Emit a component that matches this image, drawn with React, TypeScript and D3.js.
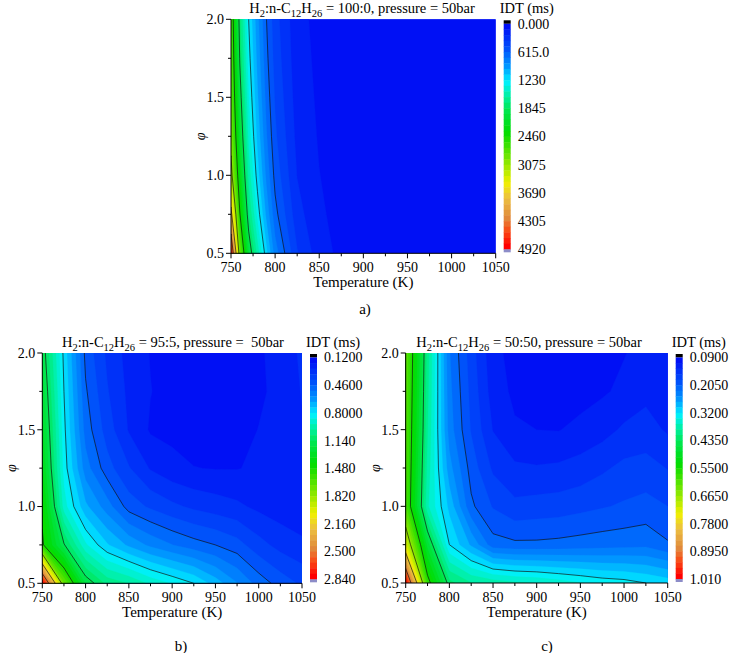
import React from "react";
import * as d3 from "d3";

// grid of the simulations (phi rows go from 0.5 up to 2.0)
const phiGrid = [0.5, 0.75, 1.0, 1.25, 1.5, 1.75, 2.0];
const tempA = [750, 760, 770, 780, 790, 800, 825, 850, 875, 900, 950, 1000, 1050];
const tempBC = [750, 775, 800, 825, 850, 875, 900, 925, 950, 975, 1000, 1025, 1050];

// IDT (ms), H2:n-C12H26 = 100:0
const idtA = [
  [4800, 2870, 2000, 1550, 1150, 800, 380, 180, 90, 55, 28, 15, 8],
  [3800, 2475, 1728, 1316, 955, 659, 293, 146, 75, 47, 24, 13, 7.3],
  [3200, 2219, 1553, 1168, 834, 572, 242, 126, 66, 41.5, 21.6, 12.1, 6.9],
  [2950, 2050, 1437, 1071, 756, 516, 211, 112, 60, 38, 20, 11.4, 6.6],
  [2820, 1932, 1356, 1003, 702, 478, 190, 103, 56, 35.6, 18.8, 10.8, 6.4],
  [2750, 1830, 1285, 944, 655, 445, 173, 96, 53, 33.6, 17.8, 10.4, 6.2],
  [2700, 1750, 1230, 900, 620, 420, 160, 90, 50, 32, 17, 10, 6],
];

// IDT (ms), H2:n-C12H26 = 95:5
const idtB = [
  [2.84, 1.7, 1.2, 1.05, 1.0, 0.92, 0.86, 0.8, 0.7, 0.6, 0.5, 0.43, 0.38],
  [1.5, 1.15, 0.88, 0.74, 0.65, 0.58, 0.53, 0.49, 0.46, 0.42, 0.35, 0.3, 0.27],
  [1.45, 0.9, 0.68, 0.56, 0.43, 0.38, 0.34, 0.31, 0.29, 0.27, 0.24, 0.22, 0.21],
  [1.35, 0.84, 0.56, 0.42, 0.33, 0.25, 0.21, 0.19, 0.185, 0.185, 0.2, 0.21, 0.22],
  [1.3, 0.82, 0.5, 0.36, 0.25, 0.18, 0.17, 0.155, 0.15, 0.16, 0.19, 0.22, 0.25],
  [1.25, 0.8, 0.47, 0.33, 0.24, 0.19, 0.165, 0.155, 0.15, 0.155, 0.175, 0.21, 0.26],
  [1.2, 0.78, 0.44, 0.31, 0.23, 0.185, 0.17, 0.16, 0.16, 0.165, 0.18, 0.21, 0.27],
];

// IDT (ms), H2:n-C12H26 = 50:50
const idtC = [
  [1.0, 0.57, 0.42, 0.39, 0.38, 0.37, 0.365, 0.355, 0.345, 0.335, 0.33, 0.32, 0.31],
  [0.72, 0.47, 0.32, 0.27, 0.215, 0.21, 0.21, 0.212, 0.215, 0.218, 0.22, 0.222, 0.208],
  [0.6, 0.37, 0.29, 0.21, 0.18, 0.165, 0.168, 0.17, 0.175, 0.18, 0.185, 0.19, 0.182],
  [0.605, 0.38, 0.26, 0.195, 0.155, 0.14, 0.138, 0.14, 0.145, 0.155, 0.165, 0.168, 0.158],
  [0.61, 0.39, 0.24, 0.18, 0.135, 0.116, 0.113, 0.112, 0.12, 0.127, 0.14, 0.145, 0.133],
  [0.615, 0.395, 0.235, 0.175, 0.125, 0.108, 0.105, 0.103, 0.103, 0.11, 0.118, 0.13, 0.128],
  [0.62, 0.4, 0.23, 0.17, 0.12, 0.105, 0.1, 0.1, 0.1, 0.106, 0.112, 0.12, 0.125],
];

const barLabelsA = ["0.000", "615.0", "1230", "1845", "2460", "3075", "3690", "4305", "4920"];
const barLabelsB = ["0.1200", "0.4600", "0.8000", "1.140", "1.480", "1.820", "2.160", "2.500", "2.840"];
const barLabelsC = ["0.0900", "0.2050", "0.3200", "0.4350", "0.5500", "0.6650", "0.7800", "0.8950", "1.010"];

const xTicks = [750, 800, 850, 900, 950, 1000, 1050];
const xMinor = [775, 825, 875, 925, 975, 1025];
const yTicks = [0.5, 1.0, 1.5, 2.0];
const yMinor = [0.75, 1.25, 1.75];

const colorStops = [0, 0.1, 0.18, 0.25, 0.31, 0.38, 0.48, 0.6, 0.71, 0.78, 0.87, 0.93, 1];
const colorList = ["#0010f5", "#0050fa", "#0096ff", "#00f0ff", "#00f0aa", "#00e650", "#00dc00",
  "#78e600", "#f0f000", "#ecc040", "#e08a3c", "#fa4a14", "#ff0000"];

const NLEV = 40;
const FONT = "'Liberation Serif', 'Times New Roman', Times, serif";

const cmap = d3.scaleLinear<string>().domain(colorStops).range(colorList).interpolate(d3.interpolateRgb);

const panels = [
  { id: "a", temps: tempA, idt: idtA, labels: barLabelsA, ratio: "100:0", press: "pressure = 50bar",
    left: 231, right: 495.7, top: 19.3, bottom: 253.3, titleX: 362, tag: "a)", tagX: 365, tagY: 314 },
  { id: "b", temps: tempBC, idt: idtB, labels: barLabelsB, ratio: "95:5", press: "pressure =  50bar",
    left: 42.3, right: 302, top: 353, bottom: 583.3, titleX: 173, tag: "b)", tagX: 181, tagY: 651 },
  { id: "c", temps: tempBC, idt: idtC, labels: barLabelsC, ratio: "50:50", press: "pressure = 50bar",
    left: 405.7, right: 667.7, top: 353, bottom: 583, titleX: 529, tag: "c)", tagX: 547, tagY: 651 },
];

function ContourPanel({ p }: { p: any }) {
  const x = d3.scaleLinear().domain([750, 1050]).range([p.left, p.right]);
  const y = d3.scaleLinear().domain([0.5, 2.0]).range([p.bottom, p.top]);
  // grid coordinates from d3.contours -> data values
  const gx = d3.scaleLinear().domain(p.temps.map((_: number, i: number) => i + 0.5)).range(p.temps);
  const gy = d3.scaleLinear().domain(phiGrid.map((_, i) => i + 0.5)).range(phiGrid);

  const lo = +p.labels[0];
  const hi = +p.labels[p.labels.length - 1];
  const levels = d3.range(NLEV).map((i) => lo + (i * (hi - lo)) / NLEV);
  const majors = d3.range(1, 8).map((k) => lo + (k * (hi - lo)) / 8);

  const gen = d3.contours().size([p.temps.length, phiGrid.length]);
  const flat = p.idt.flat();
  const toPath = (mp: any) =>
    mp.coordinates
      .map((poly: number[][][]) =>
        poly
          .map((ring) => "M" + ring.map(([a, b]) => `${x(gx(a)).toFixed(2)},${y(gy(b)).toFixed(2)}`).join("L") + "Z")
          .join("")
      )
      .join("");

  const fills = levels.map((lv, i) => ({ d: toPath(gen.contour(flat, lv)), color: cmap(i / (NLEV - 1)) }));
  const lines = majors.map((lv) => toPath(gen.contour(flat, lv)));

  const barX = p.right + 8;
  const barW = 7;
  const barTop = p.top + 1;
  const barBottom = p.bottom - 1;
  const labTop = barTop + 3.5;
  const labBottom = barBottom - 3;
  const bandH = (labBottom - labTop) / NLEV;
  const clipId = "clip-" + p.id;
  const midY = (p.top + p.bottom) / 2;

  return (
    <g>
      <defs>
        <clipPath id={clipId}>
          <rect x={p.left} y={p.top} width={p.right - p.left} height={p.bottom - p.top} />
        </clipPath>
      </defs>
      <g clipPath={`url(#${clipId})`}>
        <rect x={p.left} y={p.top} width={p.right - p.left} height={p.bottom - p.top} fill={cmap(0)} />
        {fills.map((f, i) => (
          <path key={i} d={f.d} fill={f.color} stroke={f.color} strokeWidth={0.3} />
        ))}
        {lines.map((d, i) => (
          <path key={"l" + i} d={d} fill="none" stroke="#101010" strokeWidth={0.8} strokeOpacity={0.85} />
        ))}
      </g>

      {/* axes */}
      <line x1={p.left} x2={p.right} y1={p.bottom} y2={p.bottom} stroke="#000" />
      <line x1={p.left} x2={p.left} y1={p.top} y2={p.bottom} stroke="#000" />
      {xTicks.map((t) => (
        <g key={t}>
          <line x1={x(t)} x2={x(t)} y1={p.bottom} y2={p.bottom + 5} stroke="#000" />
          <text x={x(t)} y={p.bottom + 19} textAnchor="middle" fontSize={14}>{t}</text>
        </g>
      ))}
      {xMinor.map((t) => (
        <line key={t} x1={x(t)} x2={x(t)} y1={p.bottom} y2={p.bottom + 3} stroke="#000" />
      ))}
      {yTicks.map((t) => (
        <g key={t}>
          <line x1={p.left - 5} x2={p.left} y1={y(t)} y2={y(t)} stroke="#000" />
          <text x={p.left - 7} y={y(t)} dy="0.35em" textAnchor="end" fontSize={14}>{d3.format(".1f")(t)}</text>
        </g>
      ))}
      {yMinor.map((t) => (
        <line key={t} x1={p.left - 3} x2={p.left} y1={y(t)} y2={y(t)} stroke="#000" />
      ))}
      <text x={(p.left + p.right) / 2} y={p.bottom + 34} textAnchor="middle" fontSize={15}>Temperature (K)</text>
      <text transform={`translate(${p.left - 26},${midY}) rotate(-90)`} textAnchor="middle" fontSize={14} fontStyle="italic">φ</text>

      {/* title */}
      <text x={p.titleX} y={p.top - 6} textAnchor="middle" fontSize={14.5} style={{ whiteSpace: "pre" }}>
        H<tspan dy={4} fontSize={10.5}>2</tspan>
        <tspan dy={-4}>:n-C</tspan>
        <tspan dy={4} fontSize={10.5}>12</tspan>
        <tspan dy={-4}>H</tspan>
        <tspan dy={4} fontSize={10.5}>26</tspan>
        <tspan dy={-4}>{` = ${p.ratio}, ${p.press}`}</tspan>
      </text>

      {/* colour bar */}
      <text x={barX - 4} y={p.top - 6} fontSize={14.5}>IDT (ms)</text>
      <rect x={barX} y={barTop} width={barW} height={labTop - barTop} fill="#000" />
      {levels.map((_, i) => (
        <rect key={i} x={barX} y={labTop + i * bandH} width={barW} height={bandH + 0.4} fill={cmap(i / (NLEV - 1))} />
      ))}
      <rect x={barX} y={labBottom} width={barW} height={barBottom - labBottom} fill="#8c8cc8" />
      {p.labels.map((s: string, k: number) => (
        <text key={k} x={barX + barW + 7} y={labTop + (k * (labBottom - labTop)) / 8} dy="0.35em" fontSize={14}>{s}</text>
      ))}

      <text x={p.tagX} y={p.tagY} textAnchor="middle" fontSize={15}>{p.tag}</text>
    </g>
  );
}

export default function App() {
  return (
    <svg width={732} height={653} style={{ position: "absolute", left: 0, top: 0, background: "#fff", fontFamily: FONT }}>
      {panels.map((p) => (
        <ContourPanel key={p.id} p={p} />
      ))}
    </svg>
  );
}
